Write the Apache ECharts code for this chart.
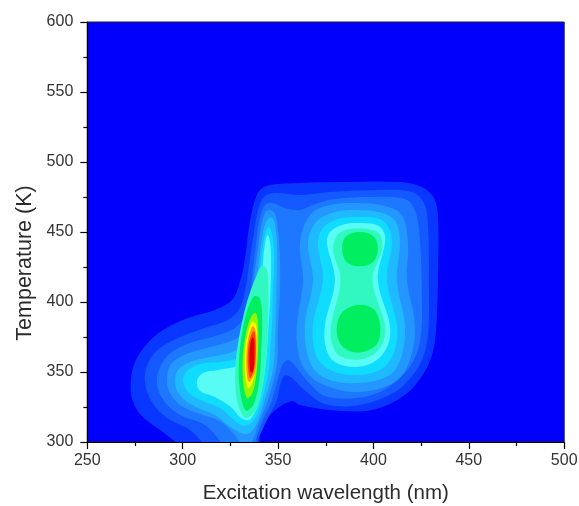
<!DOCTYPE html>
<html>
<head>
<meta charset="utf-8">
<script src="https://cdn.jsdelivr.net/npm/echarts@6/dist/echarts.min.js"></script>
<style>
    html, body { margin: 0; padding: 0; background: #fff; }
    #chart { width: 579px; height: 506px; }
</style>
</head>
<body>
<div id="chart"></div>
<script>
// axis ticks
const xTicks = [250, 300, 350, 400, 450, 500];
const yTicks = [300, 350, 400, 450, 500, 550, 600];

// fill colour per contour level, background first
const levelColors = ['#0000fc', '#0a37ff', '#1458ff', '#1e78ff', '#2496ff', '#1eb9ff', '#10dcff',
    '#58fcf4', '#30f8c0', '#00ee60', '#90f800', '#f8f800', '#ff9a00', '#ff4000', '#e00000'];

// contour outlines, [wavelength nm, temperature K]
const level1 = [[306.4, 292.9], [288.1, 308.6], [277.6, 320.0], [273.4, 331.4], [272.9, 344.3], [275.0, 357.1],
    [280.8, 369.3], [289.7, 380.0], [302.8, 388.6], [316.9, 394.3], [325.8, 401.4], [330.0, 414.3], [332.7, 431.4],
    [334.7, 452.9], [337.4, 470.7], [340.5, 480.0], [345.8, 483.6], [361.5, 485.0], [382.5, 485.7], [413.9, 485.7],
    [425.4, 482.1], [431.7, 474.3], [433.8, 462.1], [433.8, 415.7], [432.8, 380.0], [430.7, 362.1], [425.4, 347.1],
    [416.5, 333.6], [399.2, 322.9], [377.2, 322.9], [361.5, 326.4], [357.3, 329.3], [349.9, 324.3], [343.7, 315.7],
    [340.5, 307.1], [338.9, 292.9]];
const level2 = [[316.9, 292.9], [303.8, 308.6], [291.8, 317.1], [283.9, 328.6], [280.2, 342.9], [281.8, 356.4],
    [288.1, 367.1], [298.6, 375.0], [311.7, 381.4], [323.7, 387.1], [330.0, 395.7], [333.2, 412.1], [335.3, 431.4],
    [337.4, 450.0], [339.5, 465.7], [342.6, 475.0], [348.4, 477.9], [361.5, 476.4], [377.2, 478.6], [403.4, 480.0],
    [420.2, 478.6], [426.5, 470.7], [428.6, 455.0], [429.1, 408.6], [428.6, 376.4], [425.9, 360.0], [420.7, 347.9],
    [411.3, 335.7], [392.9, 326.4], [374.6, 327.1], [363.0, 338.0], [357.0, 346.0], [353.5, 347.5], [351.0, 340.0],
    [349.4, 330.0], [344.7, 317.1], [339.5, 301.4], [337.9, 292.9]];
const level3 = [[325.8, 293.0], [311.7, 312.1], [298.6, 319.3], [290.2, 329.3], [286.5, 342.1], [288.6, 355.0],
    [294.4, 364.3], [303.8, 370.7], [315.4, 375.0], [325.8, 380.0], [332.1, 388.6], [335.3, 405.0], [336.8, 422.9],
    [338.4, 440.7], [340.0, 457.1], [343.1, 469.3], [347.3, 470.7], [353.6, 467.1], [361.5, 465.7], [369.3, 470.0],
    [379.8, 473.6], [398.2, 475.0], [416.5, 473.6], [421.7, 465.7], [424.4, 444.3], [425.4, 401.4], [424.9, 376.4],
    [421.7, 360.0], [413.9, 345.7], [403.4, 335.7], [391.4, 331.4], [374.6, 332.9], [365.7, 342.9], [358.9, 354.3],
    [355.5, 358.5], [352.5, 355.5], [350.5, 348.0], [346.8, 330.0], [341.6, 314.3], [338.4, 301.4], [336.8, 292.9]];
const level4Left = [[326.9, 305.7], [319.5, 315.0], [309.1, 320.0], [299.6, 325.7], [293.9, 333.6], [291.8, 342.9],
    [293.3, 354.3], [299.6, 361.4], [310.6, 366.4], [322.2, 370.7], [330.0, 375.7], [334.7, 388.6], [336.3, 405.0],
    [337.9, 422.9], [339.5, 438.6], [341.0, 452.9], [343.1, 463.6], [345.8, 465.7], [348.4, 462.9], [349.9, 451.4],
    [351.0, 430.0], [351.0, 408.6], [349.9, 380.0], [349.4, 355.0], [344.7, 330.0], [339.5, 312.1], [336.3, 300.0],
    [332.1, 297.1]];
const level4Right = [[391.4, 470.7], [406.0, 468.6], [414.9, 462.1], [418.1, 442.1], [417.6, 415.7], [421.7, 383.6],
    [419.1, 358.6], [411.3, 342.9], [391.4, 335.7], [373.0, 341.4], [364.1, 351.4], [360.4, 365.7], [359.9, 383.6],
    [363.1, 415.7], [361.5, 442.1], [366.7, 462.1], [377.2, 469.3]];
const level5Left = [[325.8, 310.0], [316.9, 319.3], [309.1, 323.6], [301.7, 329.3], [297.5, 335.7], [296.0, 342.9],
    [297.5, 351.4], [303.8, 357.1], [314.3, 360.7], [325.8, 364.3], [333.2, 371.4], [336.8, 387.1], [338.4, 405.0],
    [339.5, 422.9], [341.0, 440.7], [342.6, 452.9], [344.7, 459.3], [346.8, 460.0], [348.4, 455.0], [349.4, 440.7],
    [349.4, 419.3], [348.9, 394.3], [348.4, 369.3], [347.3, 351.4], [343.1, 330.0], [338.4, 312.1], [333.7, 305.7]];
const level5Right = [[391.4, 465.7], [405.0, 463.6], [411.8, 457.1], [413.9, 442.1], [412.3, 415.7], [416.5, 383.6],
    [414.9, 362.1], [408.6, 347.9], [391.4, 342.1], [374.6, 345.7], [366.7, 357.1], [364.1, 383.6], [368.3, 415.7],
    [365.7, 442.1], [369.9, 457.1], [379.8, 464.3]];
const level6Left = [[326.9, 315.7], [319.5, 324.3], [309.1, 330.0], [302.8, 335.7], [300.2, 343.6], [302.3, 350.7],
    [309.1, 355.7], [319.5, 357.1], [330.0, 360.7], [335.3, 370.7], [337.9, 387.1], [339.5, 405.0], [340.5, 422.9],
    [342.1, 440.7], [343.7, 450.7], [345.2, 453.6], [346.8, 449.3], [347.9, 433.6], [347.3, 408.6], [346.8, 383.6],
    [345.8, 362.1], [345.2, 351.4], [341.6, 330.0], [337.4, 315.7], [332.1, 311.4]];
const level6Right = [[391.4, 460.7], [403.4, 459.3], [408.1, 452.9], [409.7, 442.1], [407.1, 415.7], [412.3, 383.6],
    [411.3, 365.7], [405.0, 352.9], [391.4, 347.9], [377.2, 351.4], [369.9, 362.1], [368.3, 383.6], [373.5, 415.7],
    [370.9, 442.1], [373.5, 452.9], [381.4, 459.3]];
const level7Left = [[325.8, 324.3], [316.9, 332.1], [309.1, 336.4], [307.5, 343.6], [310.6, 349.3], [318.5, 351.4],
    [329.0, 355.0], [334.2, 365.7], [337.4, 380.0], [340.0, 401.4], [341.6, 419.3], [342.6, 435.7], [343.7, 445.7],
    [344.7, 447.9], [345.8, 442.9], [346.3, 426.4], [345.8, 401.4], [344.7, 376.4], [343.7, 357.1], [341.6, 338.6],
    [338.9, 324.3], [334.7, 315.7], [330.0, 317.9]];
const level7Right = [[391.4, 456.4], [401.8, 455.0], [405.5, 450.0], [406.0, 442.1], [402.3, 415.7], [408.6, 383.6],
    [407.6, 369.3], [401.8, 358.6], [391.4, 353.6], [379.8, 357.1], [375.1, 367.1], [374.6, 383.6], [379.8, 415.7],
    [375.6, 442.1], [377.2, 450.0], [383.5, 455.0]];
const level8Left = [[332.6, 317.5], [328.5, 330.0], [327.5, 347.9], [328.5, 365.7], [330.8, 383.6], [334.0, 401.4],
    [338.0, 416.5], [341.6, 426.0], [344.3, 422.0], [345.0, 401.4], [344.5, 376.4], [343.4, 355.0], [341.3, 335.7],
    [338.0, 322.0]];
const level8Right = [[391.4, 452.5], [400.5, 451.0], [404.0, 446.5], [404.5, 437.1], [399.5, 415.7], [406.0, 383.6],
    [405.0, 371.0], [400.0, 362.5], [391.4, 358.8], [382.0, 361.8], [378.3, 370.7], [377.8, 383.6], [382.8, 415.7],
    [378.8, 437.1], [380.5, 446.5], [384.5, 451.0]];
const level9Left = [[333.0, 322.5], [330.0, 337.1], [329.4, 355.0], [331.0, 376.4], [333.8, 394.0], [337.4, 404.0],
    [340.5, 402.5], [341.7, 387.1], [341.2, 365.7], [340.2, 344.3], [337.2, 327.0]];
const level9Upper = [[392.9, 450.0], [400.0, 447.0], [402.3, 438.6], [400.0, 429.0], [392.9, 425.5], [385.8, 429.0],
    [383.6, 438.6], [385.8, 447.0]];
const level9Lower = [[391.9, 398.0], [400.0, 395.0], [403.5, 383.6], [401.8, 370.0], [392.9, 364.0], [384.3, 367.5],
    [380.8, 378.6], [383.2, 392.0]];
const level10 = [[333.7, 331.4], [331.6, 344.3], [331.6, 362.1], [333.2, 377.9], [335.8, 389.3], [338.4, 392.1],
    [339.5, 383.6], [339.5, 364.3], [338.4, 345.7], [336.3, 334.3]];
const level11 = [[334.2, 338.6], [332.7, 350.0], [332.7, 365.7], [334.2, 377.9], [336.3, 385.7], [338.4, 384.3],
    [338.9, 371.4], [338.4, 354.3], [336.3, 341.4]];
const level12 = [[334.7, 342.9], [333.4, 353.6], [333.7, 367.1], [335.0, 377.1], [336.8, 382.9], [338.4, 378.6],
    [338.7, 364.3], [337.9, 350.0]];
const level13 = [[335.3, 345.7], [334.2, 355.7], [334.5, 368.6], [335.8, 375.7], [337.4, 379.3], [338.2, 372.9],
    [338.2, 360.0], [337.1, 350.0]];
const level14 = [[335.5, 350.0], [335.0, 358.6], [335.3, 368.6], [336.3, 374.3], [337.4, 373.6], [337.6, 364.3],
    [337.4, 355.0], [336.6, 350.0]];

// [level, outline], drawn lowest level first
const contours = [
    [1, level1], [2, level2], [3, level3],
    [4, level4Left], [4, level4Right], [5, level5Left], [5, level5Right],
    [6, level6Left], [6, level6Right], [7, level7Left], [7, level7Right],
    [8, level8Left], [8, level8Right], [9, level9Left], [9, level9Upper], [9, level9Lower],
    [10, level10], [11, level11], [12, level12], [13, level13], [14, level14]
];

const chart = echarts.init(document.getElementById('chart'));

const axisFont = 'Liberation Sans, Arial, sans-serif';

chart.setOption({
    animation: false,
    grid: {
        left: 87.3,
        right: 14.8,
        top: 22,
        bottom: 64,
        containLabel: false,
        outerBoundsMode: 'none',
        show: true,
        backgroundColor: levelColors[0],
        borderColor: '#222',
        borderWidth: 1
    },
    xAxis: {
        type: 'value',
        min: xTicks[0],
        max: xTicks[xTicks.length - 1],
        interval: xTicks[1] - xTicks[0],
        name: 'Excitation wavelength (nm)',
        nameLocation: 'middle',
        nameGap: 41,
        nameTextStyle: { fontFamily: axisFont, fontSize: 20.5, color: '#2b2b2b' },
        axisLine: { lineStyle: { color: '#000', width: 1.2 } },
        axisTick: { length: 7, lineStyle: { color: '#000', width: 1.2 } },
        minorTick: { show: true, splitNumber: 2, length: 4, lineStyle: { color: '#000', width: 1.2 } },
        splitLine: { show: false },
        axisLabel: { fontFamily: axisFont, fontSize: 16, color: '#333', margin: 11 }
    },
    yAxis: {
        type: 'value',
        min: yTicks[0],
        max: yTicks[yTicks.length - 1],
        interval: yTicks[1] - yTicks[0],
        name: 'Temperature (K)',
        nameLocation: 'middle',
        nameGap: 50,
        nameTextStyle: { fontFamily: axisFont, fontSize: 21.5, color: '#2b2b2b', padding: [0, 62, 0, 0] },
        axisLine: { lineStyle: { color: '#000', width: 1.2 } },
        axisTick: { length: 7, lineStyle: { color: '#000', width: 1.2 } },
        minorTick: { show: true, splitNumber: 2, length: 4, lineStyle: { color: '#000', width: 1.2 } },
        splitLine: { show: false },
        axisLabel: { fontFamily: axisFont, fontSize: 16, color: '#333', margin: 14 }
    },
    series: [{
        type: 'custom',
        coordinateSystem: 'cartesian2d',
        clip: true,
        silent: true,
        data: contours.map(c => c[1][0]),
        renderItem: (params, api) => {
            const c = contours[params.dataIndex];
            return {
                type: 'polygon',
                shape: {
                    points: c[1].map(p => api.coord(p)),
                    smooth: 0.35
                },
                style: { fill: levelColors[c[0]], stroke: null }
            };
        }
    }]
});
</script>
</body>
</html>
